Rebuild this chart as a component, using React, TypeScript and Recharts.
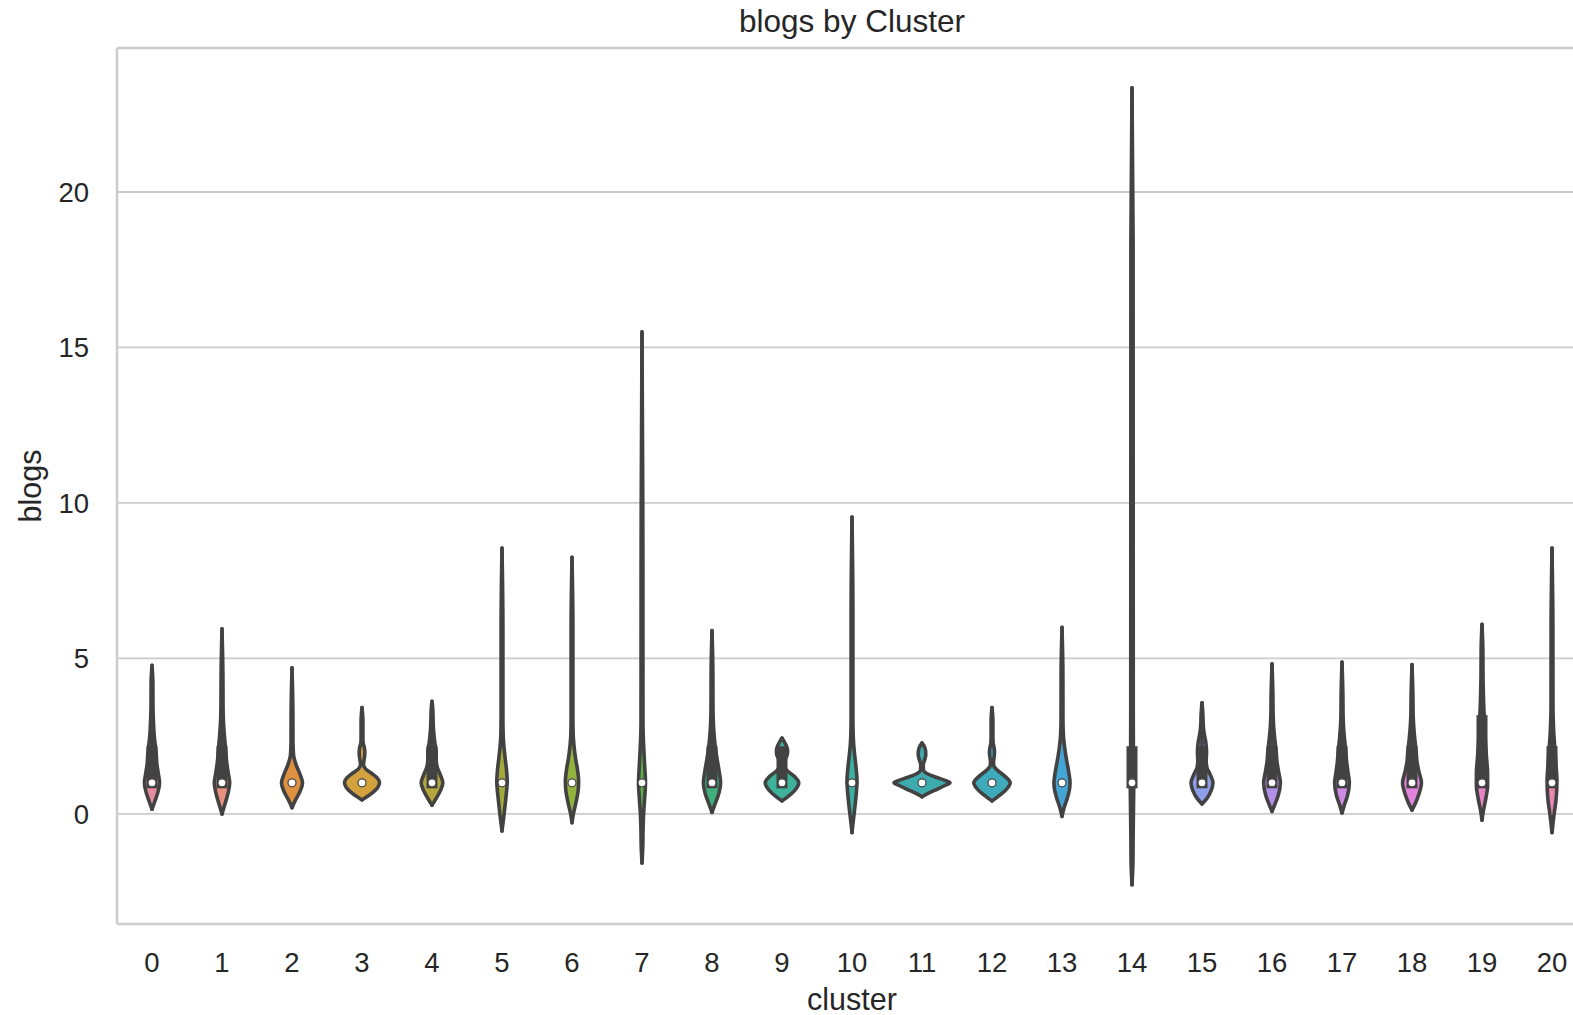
import { ComposedChart, Area, Line, Scatter, XAxis, YAxis, CartesianGrid, ReferenceLine } from 'recharts'

// cluster ids on the x axis
const clusters = [0, 1, 2, 3, 4, 5, 6, 7, 8, 9, 10, 11, 12, 13, 14, 15, 16, 17, 18, 19, 20]
const yTicks = [0, 5, 10, 15, 20]

const violinColors = [
  '#e88a9d', '#e98f7d', '#dd9140', '#d3a23e', '#b5a43c', '#a4aa3a', '#92b23e',
  '#5aae45', '#3eb07a', '#3cb39a', '#3caea2', '#3eacae', '#40aabd', '#45a5d6',
  '#5c9ce0', '#8f9ee9', '#b58ee9', '#cf8ae3', '#e283dc', '#e784c4', '#e886b0',
]

// violin outlines: [blogs value, half width in category units]
const violin0: [number, number][] = [[0.15, 0], [0.4, 0.04], [0.7, 0.085], [1.0, 0.108], [1.3, 0.09], [1.6, 0.07], [2.0, 0.058], [2.5, 0.032], [3.0, 0.02], [3.5, 0.014], [4.2, 0.013], [4.78, 0]]
const violin1: [number, number][] = [[0.0, 0], [0.3, 0.04], [0.7, 0.09], [1.0, 0.11], [1.3, 0.09], [1.7, 0.065], [2.0, 0.055], [2.5, 0.035], [3.0, 0.02], [3.5, 0.015], [4.5, 0.013], [5.95, 0]]
const violin2: [number, number][] = [[0.2, 0], [0.45, 0.05], [0.7, 0.11], [1.0, 0.15], [1.3, 0.11], [1.6, 0.055], [1.9, 0.022], [2.3, 0.014], [3.2, 0.013], [4.7, 0]]
const violin3: [number, number][] = [[0.45, 0], [0.55, 0.07], [0.7, 0.16], [0.85, 0.225], [1.0, 0.25], [1.15, 0.22], [1.3, 0.14], [1.45, 0.05], [1.58, 0.022], [1.72, 0.028], [1.87, 0.038], [2.0, 0.04], [2.15, 0.032], [2.3, 0.015], [2.5, 0.013], [3.0, 0.013], [3.42, 0]]
const violin4: [number, number][] = [[0.28, 0], [0.5, 0.06], [0.75, 0.12], [1.0, 0.155], [1.25, 0.12], [1.5, 0.075], [1.75, 0.06], [2.0, 0.06], [2.3, 0.04], [2.7, 0.022], [3.0, 0.016], [3.3, 0.013], [3.62, 0]]
const violin5: [number, number][] = [[-0.55, 0], [-0.3, 0.014], [0.0, 0.03], [0.4, 0.05], [0.8, 0.068], [1.05, 0.075], [1.4, 0.065], [1.8, 0.045], [2.2, 0.026], [2.6, 0.016], [3.2, 0.013], [6.0, 0.013], [8.55, 0]]
const violin6: [number, number][] = [[-0.28, 0], [0.0, 0.02], [0.4, 0.06], [0.8, 0.09], [1.05, 0.095], [1.4, 0.08], [1.8, 0.05], [2.2, 0.028], [2.6, 0.016], [3.2, 0.013], [6.0, 0.013], [8.25, 0]]
const violin7: [number, number][] = [[-1.58, 0], [-1.0, 0.012], [-0.5, 0.015], [0.0, 0.023], [0.5, 0.038], [1.0, 0.05], [1.5, 0.04], [2.0, 0.028], [2.5, 0.018], [3.0, 0.014], [8.0, 0.013], [15.5, 0]]
const violin8: [number, number][] = [[0.05, 0], [0.3, 0.04], [0.6, 0.09], [1.0, 0.123], [1.4, 0.1], [1.8, 0.07], [2.2, 0.045], [2.6, 0.028], [3.0, 0.018], [3.5, 0.014], [4.5, 0.013], [5.9, 0]]
const violin9: [number, number][] = [[0.42, 0], [0.55, 0.08], [0.75, 0.18], [1.0, 0.24], [1.2, 0.18], [1.4, 0.07], [1.6, 0.025], [1.75, 0.045], [1.9, 0.075], [2.05, 0.08], [2.2, 0.06], [2.35, 0.025], [2.44, 0]]
const violin10: [number, number][] = [[-0.6, 0], [-0.3, 0.014], [0.0, 0.03], [0.4, 0.05], [0.8, 0.066], [1.05, 0.072], [1.4, 0.062], [1.8, 0.043], [2.2, 0.025], [2.6, 0.016], [3.2, 0.013], [6.5, 0.013], [9.55, 0]]
const violin11: [number, number][] = [[0.55, 0], [0.65, 0.08], [0.8, 0.22], [0.93, 0.34], [1.0, 0.4], [1.07, 0.34], [1.18, 0.2], [1.3, 0.07], [1.42, 0.02], [1.58, 0.018], [1.72, 0.035], [1.9, 0.054], [2.05, 0.05], [2.2, 0.025], [2.28, 0]]
const violin12: [number, number][] = [[0.42, 0], [0.55, 0.08], [0.75, 0.19], [1.0, 0.26], [1.2, 0.19], [1.4, 0.08], [1.55, 0.025], [1.7, 0.022], [1.85, 0.032], [2.0, 0.036], [2.15, 0.028], [2.3, 0.015], [2.5, 0.013], [3.0, 0.013], [3.42, 0]]
const violin13: [number, number][] = [[-0.08, 0], [0.2, 0.03], [0.5, 0.075], [0.8, 0.108], [1.0, 0.115], [1.3, 0.1], [1.7, 0.068], [2.1, 0.04], [2.5, 0.021], [3.0, 0.014], [4.5, 0.013], [6.0, 0]]
const violin14: [number, number][] = [[-2.28, 0], [-1.5, 0.014], [-0.8, 0.016], [0.0, 0.02], [0.5, 0.023], [1.0, 0.025], [1.5, 0.022], [2.0, 0.02], [2.5, 0.019], [3.2, 0.018], [10.0, 0.017], [18.0, 0.016], [23.35, 0]]
const violin15: [number, number][] = [[0.32, 0], [0.5, 0.07], [0.75, 0.13], [1.0, 0.157], [1.25, 0.12], [1.5, 0.07], [1.7, 0.06], [2.0, 0.065], [2.3, 0.055], [2.6, 0.03], [2.9, 0.017], [3.2, 0.013], [3.57, 0]]
const violin16: [number, number][] = [[0.08, 0], [0.3, 0.04], [0.6, 0.09], [1.0, 0.12], [1.35, 0.095], [1.7, 0.07], [2.0, 0.06], [2.4, 0.04], [2.8, 0.024], [3.2, 0.016], [3.8, 0.013], [4.83, 0]]
const violin17: [number, number][] = [[0.03, 0], [0.3, 0.035], [0.6, 0.08], [1.0, 0.105], [1.35, 0.085], [1.7, 0.065], [2.0, 0.055], [2.4, 0.036], [2.8, 0.022], [3.2, 0.015], [3.8, 0.013], [4.88, 0]]
const violin18: [number, number][] = [[0.12, 0], [0.35, 0.05], [0.65, 0.1], [1.0, 0.135], [1.35, 0.1], [1.7, 0.07], [2.0, 0.06], [2.4, 0.04], [2.8, 0.025], [3.2, 0.016], [3.8, 0.013], [4.8, 0]]
const violin19: [number, number][] = [[-0.2, 0], [0.1, 0.02], [0.5, 0.055], [0.9, 0.08], [1.3, 0.08], [1.8, 0.065], [2.3, 0.05], [2.8, 0.04], [3.3, 0.028], [4.0, 0.018], [4.6, 0.014], [5.2, 0.013], [6.1, 0]]
const violin20: [number, number][] = [[-0.6, 0], [-0.3, 0.014], [0.0, 0.03], [0.4, 0.055], [0.8, 0.068], [1.1, 0.07], [1.5, 0.06], [2.0, 0.045], [2.5, 0.028], [3.0, 0.018], [3.5, 0.014], [6.0, 0.013], [8.55, 0]]

const violins = [
  violin0, violin1, violin2, violin3, violin4, violin5, violin6, violin7, violin8, violin9, violin10,
  violin11, violin12, violin13, violin14, violin15, violin16, violin17, violin18, violin19, violin20,
]

// inner box: quartiles and whisker ends (null = collapsed)
const quartiles: ([number, number] | null)[] = [
  [1, 2], [1, 2], null, null, [1, 2], null, null, null, [1, 2], [1, 2], null,
  null, null, null, [1, 2], [1, 2], [1, 2], [1, 2], [1, 2], [1, 3], [1, 2],
]
const whiskers: ([number, number] | null)[] = [
  [1, 3], [1, 3], null, null, [1, 3], null, null, null, [1, 3], [1, 2], null,
  null, null, null, [1, 3], [1, 3], [1, 3], [1, 3], [1, 3], [1, 5], [1, 3],
]
const medians = [1, 1, 1, 1, 1, 1, 1, 1, 1, 1, 1, 1, 1, 1, 1, 1, 1, 1, 1, 1, 1]

const FONT = '"Liberation Sans", Arial, sans-serif'
const GRAY = '#424242'
const TEXT = '#262626'
const SPINE = '#cccccc'
const Y_MIN = -3.54
const Y_MAX = 24.63

const medianData = clusters.map((c, i) => ({ c, v: medians[i] }))

export default function App() {
  return (
    <div style={{ position: 'absolute', left: 0, top: 0, width: 1573, height: 1015, overflow: 'hidden', background: '#fff' }}>
      <div
        style={{
          position: 'absolute', left: 0, top: 6, width: 1704, textAlign: 'center',
          fontFamily: FONT, fontSize: 31.5, lineHeight: '31.5px', color: TEXT,
        }}
      >
        blogs by Cluster
      </div>
      <ComposedChart
        layout="vertical"
        width={1590}
        height={1015}
        margin={{ top: 48, right: 3, bottom: 0, left: 0 }}
        style={{ fontFamily: FONT }}
      >
        <CartesianGrid vertical={false} stroke={SPINE} strokeWidth={1.8} />
        <XAxis
          type="number"
          domain={[-0.5, 20.5]}
          ticks={clusters}
          interval={0}
          allowDataOverflow
          height={91}
          tickLine={false}
          tickSize={0}
          tickMargin={28}
          axisLine={{ stroke: SPINE, strokeWidth: 2.5 }}
          tick={{ fill: TEXT, fontSize: 27.5, fontFamily: FONT }}
          label={(props: any) => {
            const vb = props.viewBox
            return (
              <text x={vb.x + vb.width / 2} y={vb.y + 86} textAnchor="middle" fill={TEXT} fontSize={30.5} fontFamily={FONT}>
                cluster
              </text>
            )
          }}
        />
        <YAxis
          type="number"
          dataKey="v"
          reversed
          domain={[Y_MIN, Y_MAX]}
          ticks={yTicks}
          interval={0}
          allowDataOverflow
          width={117}
          tickLine={false}
          tickSize={0}
          tickMargin={28}
          axisLine={{ stroke: SPINE, strokeWidth: 2.5 }}
          tick={{ fill: TEXT, fontSize: 27.5, fontFamily: FONT }}
          label={(props: any) => {
            const vb = props.viewBox
            const cx = 41
            const cy = vb.y + vb.height / 2
            return (
              <text x={cx} y={cy} transform={`rotate(-90, ${cx}, ${cy})`} textAnchor="middle" fill={TEXT} fontSize={30.5} fontFamily={FONT}>
                blogs
              </text>
            )
          }}
        />
        <ReferenceLine y={Y_MAX} stroke={SPINE} strokeWidth={2.5} />
        {violins.map((prof, i) => (
          <Area
            key={`violin-${i}`}
            data={prof.map(([v, w]) => ({ v, r: [clusters[i] - w, clusters[i] + w] }))}
            dataKey="r"
            type="monotone"
            fill={violinColors[i]}
            fillOpacity={1}
            stroke={GRAY}
            strokeWidth={3.6}
            strokeLinejoin="round"
            strokeLinecap="round"
            dot={false}
            activeDot={false}
            isAnimationActive={false}
          />
        ))}
        {whiskers.map((w, i) =>
          w ? (
            <Line
              key={`whisker-${i}`}
              data={[{ v: w[0], c: clusters[i] }, { v: w[1], c: clusters[i] }]}
              dataKey="c"
              stroke={GRAY}
              strokeWidth={3.6}
              dot={false}
              activeDot={false}
              isAnimationActive={false}
            />
          ) : null
        )}
        {quartiles.map((q, i) =>
          q ? (
            <Line
              key={`box-${i}`}
              data={[{ v: q[0], c: clusters[i] }, { v: q[1], c: clusters[i] }]}
              dataKey="c"
              stroke={GRAY}
              strokeWidth={11}
              strokeLinecap="square"
              dot={false}
              activeDot={false}
              isAnimationActive={false}
            />
          ) : null
        )}
        <Scatter
          data={medianData}
          dataKey="c"
          isAnimationActive={false}
          shape={(p: any) => <circle cx={p.cx} cy={p.cy} r={4} fill="#ffffff" stroke={GRAY} strokeWidth={1.2} />}
        />
      </ComposedChart>
    </div>
  )
}
